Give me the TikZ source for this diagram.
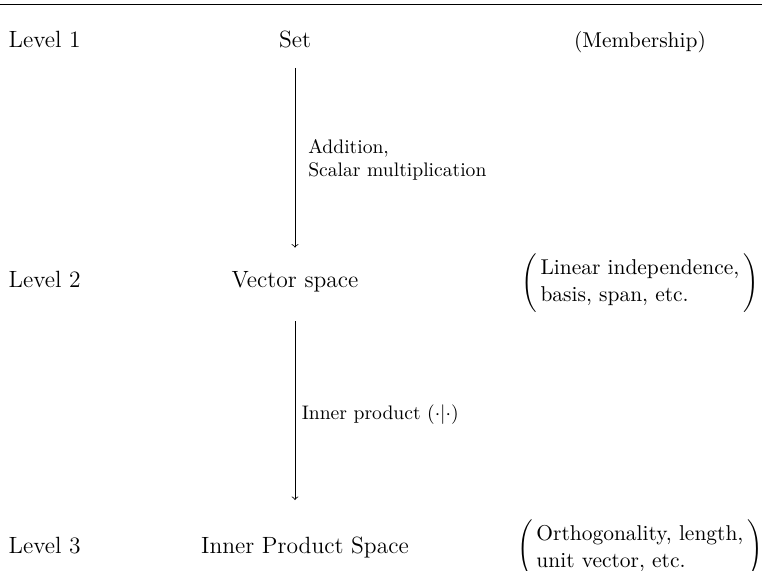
\documentclass[tikz,border=0pt]{standalone}
\begin{document}
\begin{tikzpicture}[
  level/.style={anchor=base west, inner sep=0pt, font=\large},
  space/.style={anchor=base, inner sep=0pt, font=\large},
  prop/.style={anchor=base, inner sep=0pt, font=\fontsize{10.95}{13.6}\selectfont},
  oplabel/.style={right, inner sep=0pt, align=left, font=\normalsize},
]
\useasboundingbox (0,0) rectangle (13.667,-10.241);

% Rule
\draw[line width=0.8pt] (0,-0.084) -- (13.667,-0.084);

% Level 1
\node[level] (lev1) at (0.149,-0.843) {Level 1};
\node[space] (set) at (5.291,-0.843) {Set};
\node[prop] (mem) at (11.478,-0.843) {(Membership)};

% Level 2
\node[level] (lev2) at (0.149,-5.165) {Level 2};
\node[space] (vec) at (5.291,-5.165) {Vector space};
\node[prop] (lin) at (11.478,-5.165) {$\left(\begin{tabular}{@{\hspace{2pt}}l@{\hspace{2pt}}}Linear independence,\\ basis, span, etc.\end{tabular}\right)$};

% Level 3
\node[level] (lev3) at (0.149,-9.936) {Level 3};
\node[space] (ips) at (5.470,-9.936) {Inner Product Space};
\node[prop] (orth) at (11.478,-9.936) {$\left(\begin{tabular}{@{\hspace{2pt}}l@{\hspace{2pt}}}Orthogonality, length,\\ unit vector, etc.\end{tabular}\right)$};

% Arrows
\draw[->, shorten <=10.2pt, shorten >=12.2pt] (set.south) -- (vec.north)
  node[oplabel, midway, xshift=6.6pt] {Addition,\\Scalar multiplication};
\draw[->, shorten <=14.5pt, shorten >=18.9pt] (vec.south) -- (vec.south |- ips.north)
  node[oplabel, midway, xshift=3.3pt] {Inner product $(\cdot|\cdot)$};

\end{tikzpicture}
\end{document}
